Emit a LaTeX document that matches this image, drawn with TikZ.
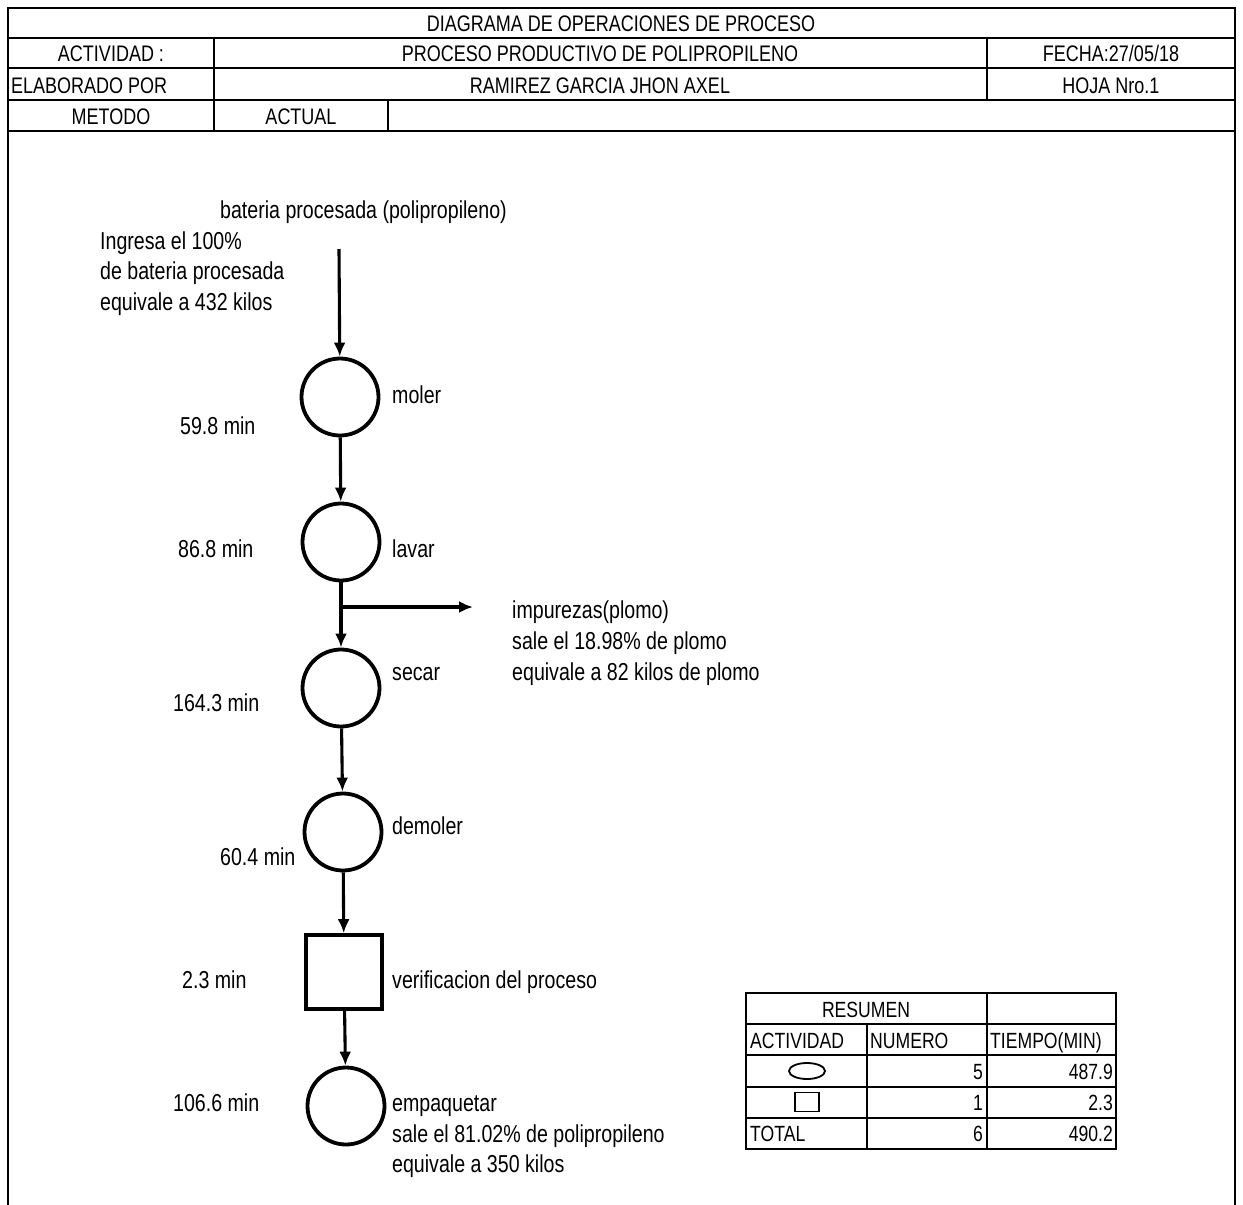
\documentclass[tikz,border=0pt]{standalone}
\usepackage{fontspec}
\setmainfont[FakeStretch=0.80]{Liberation Sans}
\usetikzlibrary{arrows.meta,shapes.geometric}
\begin{document}
\begin{tikzpicture}[x=1pt,y=-1pt,
  frame/.style={line width=1.6pt},
  op/.style={circle,draw,line width=3.8pt,minimum size=77pt,inner sep=0pt},
  insp/.style={rectangle,draw,line width=3.6pt,minimum width=76pt,minimum height=74pt,inner sep=0pt},
  flow/.style={line width=3.1pt,-{Latex[length=14pt,width=12pt]}},
  txt/.style={font=\fontsize{24.5}{31}\selectfont,inner sep=0pt,text height=0.7em,text depth=0.18em,yshift=-4.5pt},
  hdr/.style={txt,font=\fontsize{22.5}{28}\selectfont},
  tab/.style={txt,font=\fontsize{22}{28}\selectfont},
  lbl/.style={txt,anchor=west},
  sym/.style={draw,line width=1.8pt,inner sep=0pt}
]
\useasboundingbox (0,0) rectangle (1243,1205);
\fill[white] (0,0) rectangle (1243,1205);

% header frame
\draw[frame] (8,1205) -- (8,8) -- (1235,8) -- (1235,1205);
\draw[frame] (8,38) -- (1235,38);
\draw[frame] (8,68) -- (1235,68);
\draw[frame] (8,100) -- (1235,100);
\draw[frame] (8,131) -- (1235,131);
\draw[frame] (214,38) -- (214,131);
\draw[frame] (987,38) -- (987,100);
\draw[frame] (388,100) -- (388,131);

\node[hdr] (t1) at (621,24) {DIAGRAMA DE OPERACIONES DE PROCESO};
\node[hdr] (t2) at (111,54) {ACTIVIDAD :};
\node[hdr] (t3) at (600,54) {PROCESO PRODUCTIVO DE POLIPROPILENO};
\node[hdr] (t4) at (1111,54) {FECHA:27/05/18};
\node[hdr,anchor=west] (t5) at (11,86) {ELABORADO POR};
\node[hdr] (t6) at (600,86) {RAMIREZ GARCIA JHON AXEL};
\node[hdr] (t7) at (1111,86) {HOJA Nro.1};
\node[hdr] (t8) at (111,117) {METODO};
\node[hdr] (t9) at (301,117) {ACTUAL};

% flow shapes
\coordinate (start) at (339,249);
\node[op] (moler) at (340,397) {};
\node[op] (lavar) at (341,542) {};
\node[op] (secar) at (341,688) {};
\node[op] (demoler) at (343,832) {};
\node[insp] (verif) at (344,972) {};
\node[op] (empaq) at (346,1106) {};
\coordinate (branch) at (341,607);
\coordinate (bend) at (473,607);

\draw[flow] (start) -- (moler);
\draw[flow] (moler) -- (lavar);
\draw[flow] (lavar) -- (secar);
\draw[flow] (branch) -- (bend);
\draw[flow] (secar) -- (demoler);
\draw[flow] (demoler) -- (verif);
\draw[flow] (verif) -- (empaq);

% labels
\node[lbl] (l0) at (220,211) {bateria procesada (polipropileno)};
\node[lbl] (l1a) at (100,242) {Ingresa el 100\%};
\node[lbl] (l1b) at (100,272) {de bateria procesada};
\node[lbl] (l1c) at (100,303) {equivale a 432 kilos};
\node[lbl] (l2) at (392,396) {moler};
\node[lbl] (l3) at (180,427) {59.8 min};
\node[lbl] (l4) at (178,550) {86.8 min};
\node[lbl] (l5) at (392,550) {lavar};
\node[lbl] (l6a) at (512,611) {impurezas(plomo)};
\node[lbl] (l6b) at (512,642) {sale el 18.98\% de plomo};
\node[lbl] (l6c) at (512,673) {equivale a 82 kilos de plomo};
\node[lbl] (l7) at (392,673) {secar};
\node[lbl] (l8) at (173,704) {164.3 min};
\node[lbl] (l9) at (392,827) {demoler};
\node[lbl] (l10) at (220,858) {60.4 min};
\node[lbl] (l11) at (182,981) {2.3 min};
\node[lbl] (l12) at (392,981) {verificacion del proceso};
\node[lbl] (l13) at (173,1104) {106.6 min};
\node[lbl] (l14a) at (392,1104) {empaquetar};
\node[lbl] (l14b) at (392,1135) {sale el 81.02\% de polipropileno};
\node[lbl] (l14c) at (392,1165) {equivale a 350 kilos};

% summary table
\draw[frame] (746,993) rectangle (1116,1149);
\draw[frame] (746,1024) -- (1116,1024);
\draw[frame] (746,1055) -- (1116,1055);
\draw[frame] (746,1087) -- (1116,1087);
\draw[frame] (746,1118) -- (1116,1118);
\draw[frame] (867,1024) -- (867,1149);
\draw[frame] (987,993) -- (987,1149);

\node[tab] (r0) at (866,1010) {RESUMEN};
\node[tab,anchor=west] (r1) at (750,1041) {ACTIVIDAD};
\node[tab,anchor=west] (r2) at (870,1041) {NUMERO};
\node[tab,anchor=west] (r3) at (990,1041) {TIEMPO(MIN)};
\node[sym,ellipse,minimum width=36pt,minimum height=16pt] (s1) at (807,1071) {};
\node[tab,anchor=east] (r4) at (983,1072) {5};
\node[tab,anchor=east] (r5) at (1113,1072) {487.9};
\node[sym,rectangle,minimum width=24pt,minimum height=19pt] (s2) at (807,1102) {};
\node[tab,anchor=east] (r6) at (983,1103) {1};
\node[tab,anchor=east] (r7) at (1113,1103) {2.3};
\node[tab,anchor=west] (r8) at (750,1134) {TOTAL};
\node[tab,anchor=east] (r9) at (983,1134) {6};
\node[tab,anchor=east] (r10) at (1113,1134) {490.2};
\end{tikzpicture}
\end{document}
